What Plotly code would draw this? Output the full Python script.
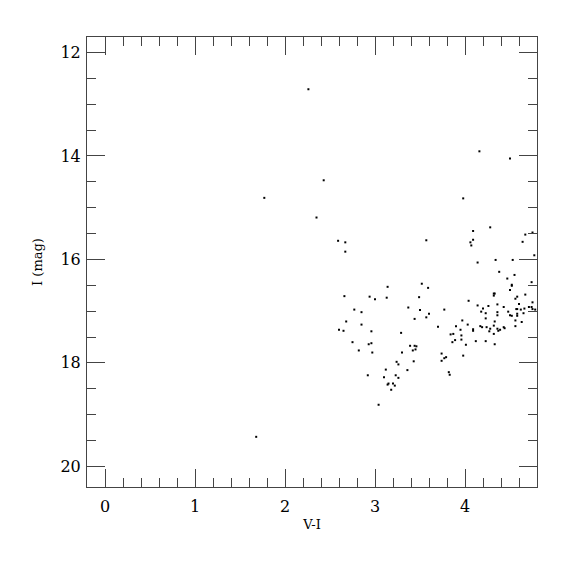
import plotly.graph_objects as go

# V-I colour and I magnitude
v_i = [1.68, 1.77, 2.26, 2.43, 2.35, 2.59, 2.67, 2.67,
       3.14, 2.66, 2.94, 3.00, 3.13, 3.49, 3.37, 3.50, 2.77, 2.85, 3.44, 2.68,
       2.85, 2.60, 2.65, 2.96, 3.29, 2.75, 2.93, 2.96, 2.82, 2.97, 3.39, 3.44,
       3.46, 3.45, 3.42, 3.30, 3.24, 3.26, 3.43, 3.36, 3.12, 2.92, 3.10, 3.23,
       3.26, 3.14, 3.15, 3.20, 3.22, 3.18, 3.04,
       4.16, 4.50, 3.98, 4.28, 4.09, 3.57, 4.09, 4.06, 4.07, 4.75, 4.67, 4.64,
       4.77, 4.14, 4.34, 4.53, 4.38, 4.55, 4.47,
       4.52, 4.52, 4.74, 4.50, 3.52, 3.59, 4.04, 4.32, 4.33, 4.32, 4.67, 4.58,
       4.56, 4.75, 4.60, 4.36, 4.14, 4.26, 4.43, 4.20, 3.77, 4.57, 4.58,
       4.62, 4.66, 4.71, 4.74, 4.78, 4.75, 4.18, 4.23, 4.36, 4.48, 4.50, 4.52,
       4.58, 4.58, 4.36, 4.65, 3.60, 3.57, 4.23, 4.56, 4.33, 4.63, 3.97, 4.03,
       3.90, 3.70, 4.17, 4.19, 4.24, 4.32, 4.43, 4.44, 4.56, 4.28, 4.36, 4.37,
       4.39, 3.95, 4.09, 4.09, 4.27, 3.84, 3.87, 3.96, 4.32, 3.89, 3.86, 3.96,
       4.12, 4.23, 4.01, 4.33, 3.98, 3.74, 3.74, 3.79, 3.77, 3.82, 3.83]
i_mag = [19.43, 14.81, 12.71, 14.47, 15.19, 15.64, 15.67, 15.85,
         16.53, 16.71, 16.72, 16.77, 16.74, 16.73, 16.93, 16.98, 16.97, 17.02, 17.15, 17.20,
         17.26, 17.36, 17.38, 17.39, 17.42, 17.60, 17.64, 17.62, 17.76, 17.80, 17.67, 17.67,
         17.68, 17.74, 17.76, 17.80, 17.98, 18.03, 17.97, 18.14, 18.13, 18.24, 18.28, 18.24,
         18.29, 18.42, 18.40, 18.40, 18.44, 18.52, 18.81,
         13.91, 14.05, 14.82, 15.38, 15.45, 15.63, 15.62, 15.67, 15.73, 15.48, 15.52, 15.66,
         15.92, 16.06, 16.01, 16.01, 16.24, 16.30, 16.37,
         16.49, 16.51, 16.44, 16.59, 16.47, 16.55, 16.80, 16.66, 16.66, 16.70, 16.68, 16.72,
         16.76, 16.83, 16.86, 16.87, 16.89, 16.90, 16.92, 16.95, 16.97, 16.96, 16.96,
         16.97, 16.95, 16.92, 16.92, 16.97, 16.96, 17.01, 17.04, 17.02, 17.01, 17.08, 17.09,
         17.05, 17.09, 17.08, 17.04, 17.05, 17.12, 17.14, 17.18, 17.20, 17.21, 17.18, 17.26,
         17.29, 17.30, 17.29, 17.31, 17.31, 17.28, 17.31, 17.33, 17.29, 17.34, 17.34, 17.38,
         17.36, 17.36, 17.35, 17.38, 17.39, 17.45, 17.44, 17.47, 17.44, 17.56, 17.60, 17.55,
         17.58, 17.58, 17.65, 17.64, 17.86, 17.82, 17.96, 17.89, 17.91, 18.18, 18.23]

x_tickvals = [0, 1, 2, 3, 4]
y_tickvals = [12, 14, 16, 18, 20]

font_family = "DejaVu Serif"
axis_col = "#444444"

fig = go.Figure(go.Scatter(
    x=v_i, y=i_mag, mode="markers",
    marker=dict(symbol="square", size=2, color="black", line=dict(width=0)),
    hoverinfo="x+y",
))

common = dict(
    showgrid=False, zeroline=False, showline=True, linecolor=axis_col, linewidth=1,
    mirror="allticks", ticks="inside", tickcolor=axis_col, tickwidth=1, ticklen=18,
    tickfont=dict(family=font_family, size=16, color="black"),
)

fig.update_xaxes(
    range=[-0.2, 4.8], tickmode="array", tickvals=x_tickvals, ticklabelstandoff=5,
    title=dict(text="V-I", font=dict(family=font_family, size=13, color="black"), standoff=4),
    minor=dict(ticks="inside", ticklen=9, dtick=0.2, tick0=0, tickcolor=axis_col, showgrid=False),
    **common,
)
fig.update_yaxes(
    range=[20.4, 11.7], tickmode="array", tickvals=y_tickvals, ticklabelstandoff=2,
    title=dict(text="I (mag)", font=dict(family=font_family, size=13, color="black"), standoff=14),
    minor=dict(ticks="inside", ticklen=9, dtick=0.5, tick0=0, tickcolor=axis_col, showgrid=False),
    **common,
)

fig.update_layout(
    width=575, height=575,
    margin=dict(l=79, r=46, t=29, b=96),
    plot_bgcolor="white", paper_bgcolor="white",
    showlegend=False,
)

fig.write_html("out.html")
